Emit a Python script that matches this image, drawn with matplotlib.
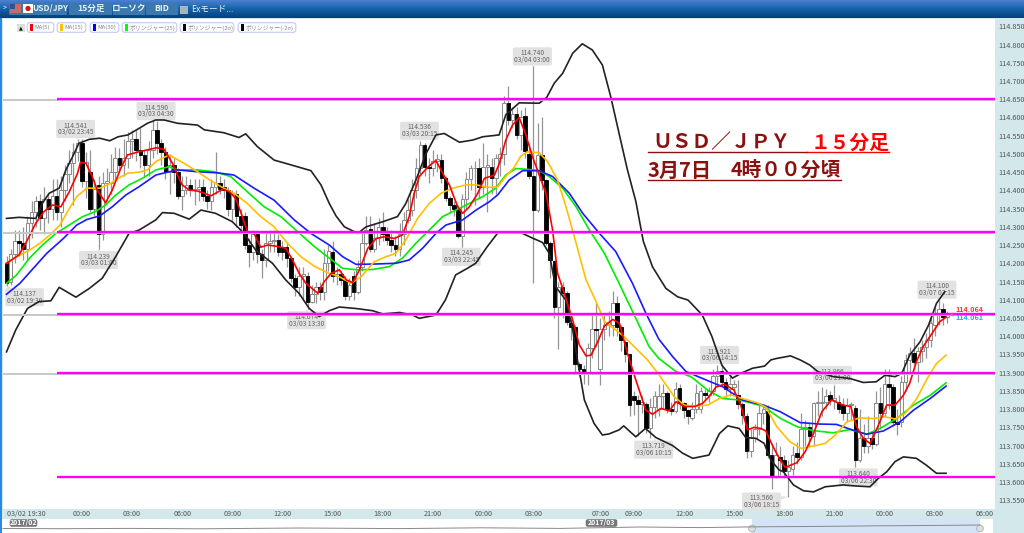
import numpy as np
import matplotlib
matplotlib.use('Agg')
import matplotlib.pyplot as plt
from matplotlib.patches import Rectangle, FancyBboxPatch, Circle

plt.rcParams['font.family'] = ['Noto Sans CJK JP', 'DejaVu Sans']

# candles, 15 minute bars from 03/02 19:30
opens = [114.20,114.15,114.225,114.26,114.256,114.24,114.31,114.34,114.37,114.325,
    114.375,114.35,114.385,114.34,114.40,114.445,114.475,114.505,114.53,114.425,
    114.45,114.35,114.415,114.28,114.42,114.42,114.45,114.49,114.47,114.49,
    114.535,114.54,114.51,114.497,114.47,114.51,114.565,114.53,114.505,114.45,
    114.47,114.45,114.385,114.40,114.415,114.40,114.405,114.41,114.385,114.37,
    114.41,114.42,114.41,114.40,114.35,114.39,114.33,114.33,114.25,114.23,
    114.28,114.225,114.21,114.255,114.26,114.265,114.245,114.245,114.215,114.16,
    114.135,114.165,114.165,114.095,114.115,114.135,114.12,114.20,114.23,114.165,
    114.17,114.155,114.11,114.165,114.12,114.19,114.256,114.295,114.24,114.27,
    114.30,114.28,114.265,114.25,114.24,114.28,114.32,114.345,114.40,114.46,
    114.525,114.465,114.46,114.48,114.484,114.433,114.38,114.36,114.35,114.275,
    114.375,114.43,114.46,114.46,114.41,114.465,114.465,114.433,114.488,114.50,
    114.64,114.593,114.61,114.552,114.605,114.50,114.44,114.346,114.497,114.428,
    114.255,114.205,114.08,114.135,114.118,114.035,114.025,113.925,113.91,113.90,
    113.967,114.02,113.91,114.02,114.03,114.03,114.09,114.025,113.985,113.95,
    113.835,113.825,113.815,113.815,113.747,113.805,113.80,113.835,113.845,113.80,
    113.795,113.858,113.817,113.797,113.775,113.80,113.80,113.845,113.838,113.85,
    113.89,113.905,113.875,113.855,113.86,113.838,113.815,113.78,113.685,113.72,
    113.745,113.79,113.795,113.675,113.615,113.67,113.66,113.63,113.635,113.68,
    113.67,113.745,113.75,113.726,113.816,113.816,113.82,113.84,113.825,113.82,
    113.81,113.79,113.81,113.802,113.66,113.72,113.70,113.72,113.705,113.816,
    113.79,113.868,113.86,113.765,113.765,113.875,113.935,113.955,113.93,113.96,
    113.97,113.99,114.03,114.06,114.075,114.054]
closes = [114.145,114.225,114.26,114.255,114.24,114.31,114.34,114.37,114.325,114.375,
    114.35,114.385,114.34,114.40,114.445,114.475,114.505,114.53,114.425,114.478,
    114.35,114.405,114.28,114.42,114.425,114.45,114.49,114.47,114.49,114.535,
    114.54,114.51,114.497,114.47,114.51,114.565,114.53,114.505,114.45,114.47,
    114.45,114.385,114.40,114.415,114.40,114.405,114.41,114.385,114.37,114.41,
    114.42,114.405,114.40,114.35,114.39,114.33,114.305,114.25,114.23,114.28,
    114.225,114.21,114.255,114.26,114.265,114.23,114.23,114.215,114.16,114.135,
    114.165,114.17,114.095,114.115,114.135,114.12,114.20,114.235,114.165,114.17,
    114.155,114.11,114.14,114.12,114.19,114.256,114.29,114.24,114.27,114.30,
    114.28,114.265,114.25,114.24,114.28,114.32,114.345,114.40,114.46,114.525,
    114.465,114.46,114.48,114.485,114.433,114.38,114.36,114.35,114.275,114.375,
    114.43,114.46,114.462,114.41,114.465,114.47,114.433,114.488,114.50,114.64,
    114.593,114.61,114.552,114.60,114.507,114.44,114.346,114.497,114.428,114.255,
    114.21,114.08,114.135,114.118,114.04,114.025,113.925,113.91,113.90,113.967,
    114.02,114.018,114.02,114.03,114.04,114.09,114.025,113.99,113.95,113.81,
    113.825,113.815,113.82,113.747,113.805,113.835,113.835,113.845,113.80,113.795,
    113.855,113.817,113.797,113.78,113.80,113.845,113.85,113.838,113.85,113.89,
    113.905,113.875,113.855,113.87,113.87,113.815,113.785,113.685,113.72,113.745,
    113.79,113.80,113.675,113.615,113.675,113.66,113.63,113.64,113.675,113.67,
    113.745,113.75,113.726,113.816,113.82,113.82,113.835,113.825,113.83,113.80,
    113.79,113.81,113.815,113.66,113.72,113.70,113.72,113.705,113.816,113.79,
    113.868,113.86,113.765,113.76,113.875,113.935,113.955,113.93,113.96,113.97,
    113.99,114.035,114.06,114.075,114.054,114.061]
highs = [114.22,114.24,114.29,114.29,114.30,114.33,114.37,114.385,114.39,114.41,
    114.39,114.43,114.43,114.44,114.47,114.51,114.53,114.541,114.541,114.505,
    114.51,114.43,114.44,114.45,114.46,114.50,114.52,114.515,114.54,114.56,
    114.565,114.565,114.57,114.51,114.535,114.59,114.59,114.54,114.52,114.50,
    114.49,114.46,114.44,114.44,114.43,114.43,114.43,114.43,114.40,114.43,
    114.505,114.44,114.43,114.41,114.40,114.40,114.35,114.34,114.27,114.29,
    114.29,114.24,114.285,114.29,114.29,114.28,114.26,114.255,114.22,114.17,
    114.19,114.19,114.175,114.14,114.15,114.15,114.24,114.25,114.26,114.19,
    114.18,114.165,114.16,114.18,114.21,114.29,114.33,114.33,114.31,114.325,
    114.34,114.30,114.29,114.275,114.31,114.34,114.375,114.43,114.49,114.536,
    114.53,114.49,114.51,114.50,114.50,114.44,114.385,114.37,114.36,114.39,
    114.45,114.47,114.48,114.49,114.53,114.50,114.49,114.50,114.52,114.66,
    114.685,114.63,114.63,114.62,114.63,114.53,114.74,114.585,114.60,114.43,
    114.26,114.21,114.15,114.15,114.125,114.05,114.03,113.93,113.92,113.98,
    114.06,114.09,114.05,114.06,114.07,114.125,114.11,114.03,113.99,113.95,
    113.85,113.84,113.84,113.82,113.83,113.85,113.87,113.87,113.85,113.82,
    113.875,113.87,113.82,113.80,113.82,113.87,113.86,113.855,113.86,113.91,
    113.921,113.921,113.885,113.895,113.88,113.88,113.82,113.79,113.745,113.76,
    113.81,113.815,113.81,113.70,113.71,113.70,113.675,113.66,113.70,113.71,
    113.79,113.77,113.765,113.82,113.85,113.86,113.855,113.85,113.866,113.84,
    113.83,113.83,113.82,113.81,113.80,113.76,113.78,113.74,113.85,113.86,
    113.91,113.91,113.87,113.80,113.89,113.95,113.97,113.995,113.97,113.99,
    114.01,114.06,114.08,114.10,114.09,114.07]
lows = [114.137,114.14,114.20,114.22,114.21,114.21,114.27,114.30,114.29,114.28,
    114.31,114.32,114.32,114.30,114.37,114.42,114.36,114.48,114.41,114.38,
    114.34,114.33,114.239,114.265,114.37,114.39,114.43,114.45,114.44,114.46,
    114.49,114.48,114.46,114.44,114.44,114.49,114.50,114.47,114.43,114.39,
    114.42,114.375,114.345,114.39,114.385,114.36,114.37,114.37,114.35,114.345,
    114.39,114.39,114.38,114.33,114.32,114.30,114.29,114.24,114.19,114.21,
    114.20,114.16,114.19,114.23,114.23,114.22,114.21,114.19,114.15,114.11,
    114.11,114.10,114.074,114.09,114.09,114.10,114.10,114.18,114.15,114.14,
    114.14,114.10,114.10,114.10,114.115,114.18,114.25,114.23,114.23,114.25,
    114.26,114.25,114.23,114.22,114.22,114.25,114.31,114.33,114.38,114.44,
    114.44,114.42,114.44,114.45,114.42,114.37,114.34,114.33,114.27,114.245,
    114.35,114.40,114.36,114.38,114.39,114.34,114.39,114.39,114.44,114.47,
    114.58,114.57,114.54,114.51,114.49,114.43,114.145,114.34,114.40,114.25,
    114.16,114.05,113.965,114.05,114.03,113.99,113.90,113.89,113.87,113.865,
    113.94,113.97,113.865,113.99,114.0,114.0,114.0,113.96,113.93,113.78,
    113.785,113.725,113.79,113.735,113.72,113.775,113.78,113.80,113.79,113.785,
    113.79,113.80,113.775,113.76,113.77,113.79,113.79,113.825,113.82,113.84,
    113.86,113.865,113.83,113.835,113.84,113.80,113.76,113.665,113.67,113.71,
    113.73,113.76,113.665,113.58,113.61,113.62,113.61,113.56,113.62,113.65,
    113.66,113.70,113.70,113.70,113.78,113.78,113.80,113.81,113.80,113.79,
    113.77,113.765,113.77,113.64,113.655,113.68,113.68,113.69,113.70,113.745,
    113.78,113.80,113.755,113.73,113.75,113.85,113.90,113.92,113.875,113.93,
    113.94,113.97,114.0,114.03,114.03,114.035]

# indicator lines, vertices (bar index, price)
ma5_x = [0,3,5,7,9,11,13,15,17,17.7,19,20.5,21.7,23.7,25.3,27.3,28.9,31.7,33.7,36,37.7,39.7,40.9,42,43.7,45.7,47.3,48.9,50,51.7,53.2,54.8,56.4,57.6,59.2,60.8,62.4,64.4,66.8,68.4,70,71.6,74.4,76,77.6,79.6,81.3,82.8,84.4,86.4,88.4,90.4,92.7,94.7,96.3,97.5,98.7,100.7,102.7,104.3,105.9,107.9,109.1,110.7,112.7,114.3,116.7,117.9,119.4,121,122.6,124.2,125.8,127.4,129,130.6,131.8,133.4,135.4,137,138.6,139.8,141.4,143,145,146.6,148.5,150.5,152.9,154.5,156.5,158.5,160.1,162.1,164.5,166.5,168,169.7,171.7,174,175.6,177.2,178.8,180.4,181.6,183.2,184.7,186.2,189,191,193,195,197.3,200.1,201.9,203.3,204.9,206.5,208,210.5,212.5,214.5,216,217.6,219.2,221.6,223.2,224.7]
ma5_y = [114.20,114.223,114.264,114.31,114.342,114.36,114.355,114.396,114.447,114.477,114.474,114.438,114.401,114.366,114.401,114.46,114.497,114.506,114.511,114.517,114.512,114.474,114.442,114.415,114.401,114.398,114.392,114.385,114.392,114.403,114.397,114.378,114.328,114.287,114.282,114.244,114.25,114.247,114.241,114.209,114.172,114.145,114.118,114.15,114.172,114.182,114.154,114.147,114.182,114.241,114.268,114.273,114.268,114.278,114.328,114.392,114.438,114.463,114.482,114.447,114.415,114.355,114.337,114.355,114.392,114.433,114.442,114.475,114.538,114.579,114.60,114.552,114.492,114.442,114.392,114.291,114.172,114.118,114.044,113.976,113.946,113.948,113.985,114.028,114.046,114.035,113.953,113.88,113.797,113.786,113.802,113.795,113.82,113.807,113.807,113.816,113.834,113.861,113.868,113.852,113.811,113.743,113.75,113.747,113.74,113.70,113.667,113.64,113.653,113.683,113.733,113.793,113.825,113.811,113.807,113.752,113.72,113.706,113.742,113.811,113.811,113.838,113.871,113.93,113.971,114.012,114.04,114.052]

ma15_x = [0,2.4,5.5,8,10.4,12.8,14.8,16.8,19.2,22.3,24.7,26.7,29,31.7,33.7,35.7,38,38.9,42.5,45.7,48,51.3,54.4,57.6,60.8,64,67.2,70.4,73.6,76.8,79.6,82.4,84.8,87.9,90.7,93.1,95.5,98.3,101.1,103.9,106.7,109.9,112.3,115.5,117.5,119.4,121.4,123,124.6,127.4,129.4,131.8,133.8,135.8,138.6,141,143,145.3,147.7,150.5,153.3,156,159.7,162.1,164.9,167.7,170.5,173.2,176,179.6,181.6,184.2,187.4,190.1,193,195.8,198.2,201,204.1,207.3,210.1,212.5,214.9,217.7,220,222.4,224.7]
ma15_y = [114.20,114.218,114.236,114.255,114.278,114.305,114.346,114.383,114.406,114.406,114.418,114.433,114.447,114.45,114.456,114.479,114.492,114.497,114.474,114.451,114.433,114.41,114.392,114.364,114.328,114.30,114.255,114.218,114.192,114.174,114.163,114.145,114.163,114.204,114.218,114.227,114.264,114.323,114.364,114.392,114.406,114.415,114.415,114.408,114.41,114.438,114.463,114.494,114.506,114.503,114.479,114.428,114.355,114.273,114.154,114.095,114.04,114.021,113.999,113.967,113.935,113.895,113.834,113.811,113.808,113.811,113.829,113.839,113.829,113.817,113.805,113.752,113.71,113.692,113.699,113.706,113.729,113.765,113.776,113.774,113.779,113.773,113.788,113.829,113.88,113.925,113.948]

boll25_x = [0,2.4,5.5,8.6,11.8,15,18.2,21.3,23.7,26.1,29.3,32.5,35.7,38.9,40.9,45.7,49.7,53.6,57.6,61.6,65.6,69.6,73.6,77.2,80.4,84,87.6,91.6,94.7,97.9,101.1,104.3,109.1,113.9,117,119.4,121.8,124.2,127.4,129.8,133,136.2,139.4,143,146.5,150.5,153.7,156,160.1,163.7,167.7,171.3,175.3,181,185,189,193,197.7,201.7,205.7,208.9,212.9,216.9,220.9,224.7]
boll25_y = [114.145,114.168,114.214,114.25,114.282,114.305,114.328,114.342,114.36,114.387,114.415,114.433,114.456,114.465,114.456,114.456,114.451,114.438,114.396,114.355,114.328,114.287,114.246,114.214,114.186,114.182,114.183,114.191,114.214,114.255,114.291,114.328,114.355,114.383,114.406,114.442,114.46,114.458,114.454,114.438,114.406,114.355,114.291,114.227,114.145,114.049,113.971,113.939,113.903,113.889,113.852,113.829,113.825,113.808,113.775,113.752,113.741,113.735,113.744,113.731,113.747,113.774,113.811,113.838,113.872]

ma30_x = [0,3.2,6.4,9.6,13.6,16.8,19.2,22.3,25.3,28.5,31.7,35.7,38.9,40.9,45.7,50.5,54.4,59.2,64,68.8,72.8,77.2,80.4,83.6,88.4,93.1,96.3,99.5,102.7,105.1,109.1,112.3,115.5,117.5,120.2,123.4,127.4,130.6,134.6,137.8,141.8,145.7,149.7,152.9,156,159.3,162.5,167.3,171.3,176,181,185,189.8,194.5,198.5,202.5,205.7,209.7,213.7,216.9,220.9,224.7]
ma30_y = [114.115,114.145,114.186,114.227,114.268,114.305,114.32,114.33,114.355,114.387,114.41,114.442,114.451,114.456,114.451,114.448,114.442,114.406,114.373,114.319,114.282,114.25,114.218,114.197,114.198,114.20,114.209,114.241,114.282,114.305,114.319,114.346,114.369,114.388,114.428,114.454,114.454,114.438,114.392,114.337,114.282,114.232,114.145,114.063,113.992,113.944,113.903,113.88,113.861,113.825,113.811,113.793,113.763,113.759,113.758,113.742,113.731,113.74,113.765,113.797,113.829,113.863]

upper_x = [0,3,7,8.6,10.2,12.6,14.2,15.8,17.3,19.8,22.3,24.7,26.7,29,31.7,33.7,35.7,37.7,40.9,45.7,47.3,52,55.6,57.2,60,64,68,72.8,75.2,77.2,78.8,80.8,84,86,90,93.5,95.5,97.9,100.3,102.7,104.7,108.3,111.5,113.9,117.8,119.4,122.6,127.4,129.2,131,133,135.4,137.7,140.1,142.5,144.5,146.5,148.5,150.5,152.3,154.5,157.7,160.5,163,166.4,168.7,171.1,173.6,176,178.4,181.3,182.8,184.2,187.5,189.8,192.1,194,197.7,201.7,204.9,208,210.1,212.5,214.1,216,218.5,220.5,222.4,224.4]
upper_y = [114.323,114.326,114.323,114.365,114.392,114.406,114.456,114.492,114.529,114.54,114.543,114.536,114.547,114.552,114.57,114.584,114.593,114.593,114.584,114.579,114.566,114.558,114.545,114.555,114.52,114.483,114.47,114.454,114.415,114.364,114.33,114.30,114.282,114.30,114.314,114.328,114.364,114.428,114.50,114.552,114.556,114.532,114.538,114.547,114.552,114.607,114.64,114.639,114.655,114.694,114.721,114.776,114.802,114.785,114.744,114.657,114.556,114.456,114.37,114.26,114.19,114.131,114.108,114.099,114.058,113.999,113.92,113.885,113.90,113.912,113.918,113.935,113.939,113.946,113.935,113.921,113.903,113.889,113.884,113.873,113.875,113.893,113.889,113.898,113.948,113.985,114.03,114.09,114.122]

lower_x = [0,2.2,5,7.8,10.6,12.6,16.6,19.8,22.9,26.1,29.3,31.7,35.7,37.3,40.1,43.7,46.5,50,54,56.8,59.6,63.6,66.8,70,72.4,74.8,77.2,79.6,83.5,87.5,90,94,97.1,98.7,102.7,105,107.4,110.2,112.2,115,117.4,120.2,123.4,125.8,128.2,129.8,131.3,133.7,135.3,136.4,138.2,140.5,142.5,144.1,146.5,147.6,150.5,152.8,155.3,159.3,161.7,164.1,168,170.5,172.5,175.2,176.8,179.2,181.2,182.8,184.8,185.8,188.2,190.6,193,195.8,200.1,203.3,206.5,208.5,210.5,212.5,214.5,217.6,220,222.4,224.7]
lower_y = [113.957,114.017,114.076,114.095,114.097,114.134,114.107,114.131,114.159,114.218,114.282,114.291,114.319,114.339,114.337,114.321,114.346,114.337,114.314,114.282,114.236,114.20,114.154,114.117,114.076,114.054,114.07,114.08,114.076,114.07,114.061,114.065,114.058,114.049,114.058,114.10,114.168,114.186,114.20,114.246,114.282,114.285,114.282,114.269,114.257,114.227,114.136,114.10,114.026,113.944,113.825,113.761,113.729,113.732,113.743,113.754,113.724,113.747,113.722,113.70,113.679,113.665,113.674,113.733,113.754,113.747,113.722,113.72,113.706,113.66,113.633,113.628,113.592,113.576,113.573,113.587,113.592,113.589,113.587,113.61,113.628,113.656,113.669,113.665,113.646,113.624,113.624]

level_prices = [114.65, 114.285, 114.06, 113.90, 113.615]

y_ticks = [113.55,113.60,113.65,113.70,113.75,113.80,113.85,113.90,113.95,114.00,114.05,114.10,114.15,114.20,114.25,114.30,114.35,114.40,114.45,114.50,114.55,114.60,114.65,114.70,114.75,114.80,114.85]
x_tick_idx = [0,18,30,42,54,66,78,90,102,114,126,142,150,162,174,186,198,210,222,234]
x_tick_labels = ['03/02 19:30','00:00','03:00','06:00','09:00','12:00','15:00','18:00','21:00','00:00','03:00','07:00','09:00','12:00','15:00','18:00','21:00','00:00','03:00','06:00']

# high / low callouts
callout_idx = [0,17,22,36,72,99,109,126,155,171,187,198,203,223]
callout_price = [114.137,114.541,114.239,114.590,114.074,114.536,114.245,114.740,113.719,113.921,113.560,113.866,113.640,114.100]
callout_time = ['03/02 19:30','03/02 23:45','03/03 01:00','03/03 04:30','03/03 13:30','03/03 20:15','03/03 22:45','03/04 03:00','03/06 10:15','03/06 14:15','03/06 18:15','03/06 21:00','03/06 22:30','03/07 03:15']
callout_dx = [18,-2,0,-1,-1,-1,-1,-1,-1,-2,-27,-2,3,-2]
callout_dy = [-11,10,-11,10,-11,10,-10,10,-11,10,-5,10,-10,10]

overview_x = [3,60,130,200,300,400,480,560,640,700,760,820,880,940,980]
overview_v = [4.5,4.3,4.6,4.2,5.0,4.4,5.2,4.6,6.0,5.4,6.2,6.6,7.2,7.6,8.0]

legend_names = ['MA(5)','MA(15)','MA(30)','ボリンジャー(25)','ボリンジャー(2σ)','ボリンジャー(-2σ)']
legend_colors = ['#ff0000','#ffc000','#0000ff','#00ff00','#000000','#000000']
legend_left = [27,57,90,122,180,238]
legend_right = [54,86,119,177,234,296]

fig = plt.figure(figsize=(10.24, 5.33), dpi=100, facecolor='#d2e8ea')

# window chrome behind the chart
back = fig.add_axes([0, 0, 1, 1], zorder=0)
grad = np.linspace(0, 1, 18).reshape(-1, 1)
back.imshow(grad, cmap=matplotlib.colors.LinearSegmentedColormap.from_list('bar', ['#4a7fd0', '#1263a8', '#0a3f7c']),
            extent=[0, 1024, 18, 0], aspect='auto')
back.set_xlim(0, 1024)
back.set_ylim(533, 0)
back.axis('off')
back.add_patch(Rectangle((0, 519), 993, 14, fc='white', ec='none'))
back.add_patch(Rectangle((752, 519), 228, 14, fc='#d5e3f7', ec='none'))
back.add_patch(Rectangle((0, 18), 2, 515, fc='#2a8ae0', ec='none'))
for l, r, t in [(9, 67, ''), (69, 112, '15分足'), (113, 145, 'ローソク'), (146, 178, 'BID')]:
    back.add_patch(Rectangle((l, 3), r - l, 12, fc='#3a78ae', ec='none'))
    back.text((l + r) / 2, 8.5, t, color='#e8f0f8', fontsize=6.2, fontweight='bold', ha='center', va='center')
back.add_patch(Rectangle((10, 4), 11, 9, fc='#c96a6a', ec='none'))
back.add_patch(Rectangle((10, 4), 5, 5, fc='#3a4f8a', ec='none'))
back.add_patch(Rectangle((23, 4), 10, 9, fc='white', ec='none'))
back.add_patch(Circle((28, 8.5), 2.6, fc='#e01010', ec='none'))
back.text(50, 8.5, 'USD/JPY', color='#e8f0f8', fontsize=6, fontweight='bold', ha='center', va='center')
back.add_patch(Rectangle((180, 6), 8, 8, fc='#a8b4c0', ec='none'))
back.text(191, 9.5, 'Exモード...', color='#e8f0f8', fontsize=6.2, ha='left', va='center')
back.text(3, 8, '>', color='white', fontsize=5, ha='left', va='center')

ax = fig.add_axes([3 / 1024, 24 / 533, 992 / 1024, 490 / 533], zorder=1)
ax.set_facecolor('white')
ax.set_xlim(-0.84, 236.4)
ax.set_ylim(113.526, 114.870)
for s in ax.spines.values():
    s.set_visible(False)

ind = np.arange(len(opens))
o = np.array(opens)
c = np.array(closes)
up = c >= o
ax.vlines(ind, lows, highs, color='#949494', lw=0.9, zorder=2)
ax.bar(ind[up], np.maximum(c[up] - o[up], 0.002), bottom=o[up], width=0.85, fc='white', ec='#8a8a8a', lw=0.7, zorder=3)
ax.bar(ind[~up], np.maximum(o[~up] - c[~up], 0.002), bottom=c[~up], width=0.85, fc='black', ec='black', lw=0.6, zorder=3)

ax.plot(upper_x, upper_y, color='#222222', lw=1.2, zorder=4)
ax.plot(lower_x, lower_y, color='#222222', lw=1.2, zorder=4)
ax.plot(boll25_x, boll25_y, color='#00ee00', lw=1.2, zorder=4)
ax.plot(ma30_x, ma30_y, color='#1a1aff', lw=1.2, zorder=4)
ax.plot(ma15_x, ma15_y, color='#ffc000', lw=1.2, zorder=4)
ax.plot(ma5_x, ma5_y, color='#ff0000', lw=1.2, zorder=4.5)

# level lines, the magenta ones start a bit right of the grey ones
for p in level_prices[:-1]:
    ax.axhline(p - 0.003, color='#c8c8c8', lw=1.4, zorder=4.6)
for p in level_prices:
    ax.plot([12, 236.4], [p, p], color='#ff00ff', lw=1.7, zorder=5, solid_capstyle='butt')

for i, p, t, dx, dy in zip(callout_idx, callout_price, callout_time, callout_dx, callout_dy):
    ax.annotate(f'{p:.3f}\n{t}', xy=(i, p), xytext=(dx, dy), textcoords='offset pixels',
                ha='center', va='center', fontsize=4.8, color='#666666', linespacing=0.8, zorder=1,
                bbox=dict(boxstyle='round,pad=0.25', fc='#e2e2e2', ec='none'), annotation_clip=False,
                arrowprops=dict(arrowstyle='wedge,tail_width=0.5,shrink_factor=0.5', fc='#e2e2e2', ec='none',
                                shrinkA=0, shrinkB=0))

ax.yaxis.tick_right()
ax.set_yticks(y_ticks)
ax.set_yticklabels([f'{v:.3f}' for v in y_ticks])
ax.set_xticks(x_tick_idx)
ax.set_xticklabels(x_tick_labels)
ax.tick_params(axis='y', length=0, pad=2.5, labelsize=5.2, labelcolor='#555555')
ax.tick_params(axis='x', length=0, pad=0.5, labelsize=5.2, labelcolor='#555555')
ax.get_xticklabels()[0].set_ha('left')

# overlay: legend, comment text, overview
top = fig.add_axes([0, 0, 1, 1], zorder=2)
top.set_xlim(0, 1024)
top.set_ylim(533, 0)
top.axis('off')
top.patch.set_alpha(0)
top.add_patch(Rectangle((17, 23.5), 8, 8, fc='#dddddd', ec='none'))
top.text(21, 27.5, '▲', fontsize=3.5, color='black', ha='center', va='center', family='DejaVu Sans')
for name, col, l, r in zip(legend_names, legend_colors, legend_left, legend_right):
    top.add_patch(FancyBboxPatch((l + 1, 23.5), r - l - 2, 8, boxstyle='round,pad=0.8,rounding_size=2.5',
                                 fc='white', ec='#c4c8f4', lw=0.8))
    top.add_patch(Rectangle((l + 3, 24), 3, 7, fc=col, ec='none'))
    top.text(l + 7.5, 27.5, name, fontsize=4.2, color='#888888', ha='left', va='center')

top.text(652, 143, 'ＵＳＤ／ＪＰＹ', fontsize=14.2, fontweight='bold', color='#8b1010', ha='left', va='center')
top.text(811, 143, '１５分足', fontsize=14.2, fontweight='bold', color='#ff0000', ha='left', va='center')
top.plot([648, 807], [152, 152], color='#8b1010', lw=1)
top.plot([807, 889], [152, 152], color='#ff0000', lw=1)
top.text(648, 170, '3月7日', fontsize=14.5, fontweight='bold', color='#8b1010', ha='left', va='center')
top.text(731, 170, '4時００分頃', fontsize=14.2, fontweight='bold', color='#8b1010', ha='left', va='center')
top.plot([648, 841], [180, 180], color='#8b1010', lw=1)

top.text(955, 309, '114.064', fontsize=5.2, fontweight='bold', color='#ff3030', ha='left', va='center')
top.text(955, 318, '114.061', fontsize=5.2, fontweight='bold', color='#20a8e8', ha='left', va='center')
top.plot([951], [313.5], marker='<', ms=3, color='#ff40a0', mec='none')

top.plot(overview_x, [533 - v for v in overview_v], color='#888888', lw=0.7)
for x, t, w in [(10, '2017/02', 27), (586, '2017/03', 31)]:
    top.add_patch(FancyBboxPatch((x, 519.5), w, 7, boxstyle='round,pad=0.3,rounding_size=2', fc='#777777', ec='none'))
    top.text(x + w / 2, 523, t, fontsize=5, fontweight='bold', color='white', ha='center', va='center')
top.add_patch(Circle((752, 528.5), 3.4, fc='#dddddd', ec='#aaaaaa', lw=0.5))
top.add_patch(Circle((980, 528.5), 3.4, fc='#dddddd', ec='#aaaaaa', lw=0.5))

fig.savefig('out.png', dpi=100)
